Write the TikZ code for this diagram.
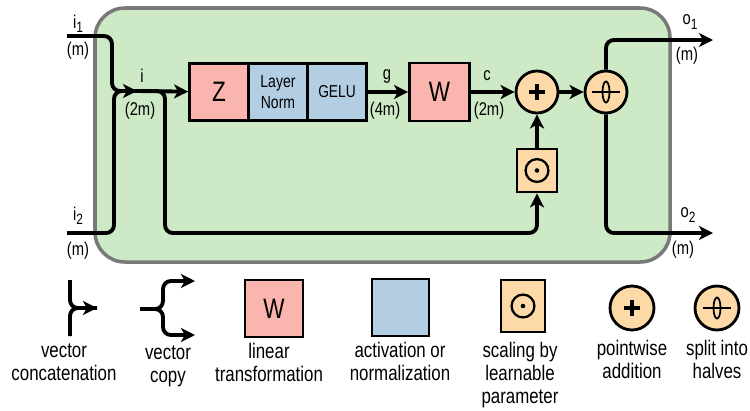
\documentclass[tikz,border=0pt]{standalone}
\usepackage{fontspec}
\setmainfont{Liberation Sans}[FakeStretch=0.8]
\usetikzlibrary{arrows.meta}
\usetikzlibrary{positioning}
\usetikzlibrary{calc}

\definecolor{bggreen}{HTML}{CDE9C6}
\definecolor{linfill}{HTML}{F9B5AE}
\definecolor{actfill}{HTML}{B3CDE3}
\definecolor{opfill}{HTML}{FDD9A8}

\newcommand{\idx}[1]{\raisebox{-0.45ex}{\fontsize{8.5}{9}\selectfont #1}}

\tikzset{
    wire/.style={line width=2.2pt, rounded corners=4.5pt},
    arr/.style={-{Stealth[length=8pt, width=8pt, inset=2.2pt]}},
    lab/.style={font=\fontsize{10.5}{11}\selectfont, inner sep=0pt},
    legtext/.style={font=\fontsize{12}{13}\selectfont, align=center, anchor=north, inner sep=0pt},
    blk/.style={draw, line width=1.6pt, inner sep=0pt, minimum width=1.18cm, minimum height=1.14cm},
    linbox/.style={blk, fill=linfill, font=\fontsize{16}{16}\selectfont},
    actbox/.style={blk, fill=actfill, align=center},
    addsym/.style={circle, draw, line width=1.6pt, fill=opfill, minimum size=0.84cm, inner sep=0pt,
        path picture={
            \draw[line width=2pt] ([xshift=-4.3pt]path picture bounding box.center) -- ([xshift=4.3pt]path picture bounding box.center);
            \draw[line width=2pt] ([yshift=-4.3pt]path picture bounding box.center) -- ([yshift=4.3pt]path picture bounding box.center);
        }},
    splitsym/.style={circle, draw, line width=1.6pt, fill=opfill, minimum size=0.84cm, inner sep=0pt,
        path picture={
            \draw[line width=1pt] ([xshift=-8pt]path picture bounding box.center) -- ([xshift=8pt]path picture bounding box.center);
            \draw[line width=1pt] (path picture bounding box.center) ellipse [x radius=2pt, y radius=6pt];
        }},
    scalesym/.style={draw, line width=1.6pt, fill=opfill, inner sep=0pt,
        path picture={
            \draw[line width=1.3pt] (path picture bounding box.center) circle [radius=6.5pt];
            \fill[black] (path picture bounding box.center) circle [radius=1.3pt];
        }},
}

\begin{document}
\begin{tikzpicture}[x=0.02cm, y=-0.02cm]
    \useasboundingbox (0,0) rectangle (750,410);

    % Block background
    \draw[line width=2pt, draw=gray!95!black, fill=bggreen, rounded corners=17pt] (95,8) rectangle (670,262);

    % Inputs and outputs
    \coordinate (i1) at (67,36);
    \coordinate (i2) at (67,233);
    \coordinate (cat) at (137,91);
    \coordinate (o1) at (713,40);
    \coordinate (o2) at (713,233);

    % Blocks
    \node[linbox] (z) at (219,92) {Z};
    \node[actbox, font=\fontsize{10}{11.5}\selectfont] (norm) at (278,92) {Layer\\Norm};
    \node[actbox, font=\fontsize{9.8}{11}\selectfont] (gelu) at (337,92) {GELU};
    \node[linbox, minimum width=1.2cm, minimum height=1.16cm] (w) at (439.5,92) {W};
    \node[addsym] (add) at (537,92) {};
    \node[splitsym] (split) at (606,92) {};
    \node[scalesym, minimum width=0.8cm, minimum height=0.86cm] (scale) at (537,170.5) {};

    % Connections
    \draw[wire] (i1) -- ++(45,0) |- (cat);
    \draw[wire, arr] (i2) -- ++(47,0) |- (cat);
    \draw[wire, arr] (cat) -- (z);
    \draw[wire, arr] (cat) -| ($(cat)+(28,142)$) -| (scale.south);
    \draw[wire, arr] (gelu) -- (w);
    \draw[wire, arr] (w) -- (add);
    \draw[wire, arr] (scale) -- (add);
    \draw[wire, arr] (add) -- (split);
    \draw[wire, arr] (split.north) |- (o1);
    \draw[wire, arr] (split.south) |- (o2);

    % Labels
    \node[lab] (li1) at (78,24) {i\idx{1}};
    \node[lab] (lm1) at (78,51) {(m)};
    \node[lab] (li2) at (78,216) {i\idx{2}};
    \node[lab] (lm2) at (78,251) {(m)};
    \node[lab] (li) at (142,76) {i};
    \node[lab] (lim) at (140,111) {(2m)};
    \node[lab] (lg) at (387,76) {g};
    \node[lab] (lgm) at (385,111) {(4m)};
    \node[lab] (lc) at (487,76) {c};
    \node[lab] (lcm) at (489,111) {(2m)};
    \node[lab] (lo1) at (690,22) {o\idx{1}};
    \node[lab] (lom1) at (687,56) {(m)};
    \node[lab] (lo2) at (688,215) {o\idx{2}};
    \node[lab] (lom2) at (683,250) {(m)};

    % Legend
    \coordinate (ctop) at (70,280);
    \coordinate (cbot) at (70,336);
    \coordinate (cout) at (97,308);
    \draw[wire] (ctop) |- (cout);
    \draw[wire, arr] (cbot) |- (cout);
    \node[legtext] (tcat) at (64,341) {\strut vector\\concatenation};

    \coordinate (cin) at (140,309);
    \coordinate (cup) at (195,281);
    \coordinate (cdn) at (195,335);
    \draw[wire, arr] (cin) -- ++(23,0) |- (cup);
    \draw[wire, arr] (cin) -- ++(23,0) |- (cdn);
    \node[legtext] (tcopy) at (168,343) {\strut vector\\copy};

    \node[linbox, minimum width=1.16cm] (lw) at (274,308.5) {W};
    \node[legtext] (tlin) at (269,342) {\strut linear\\transformation};

    \node[blk, fill=actfill, minimum width=1.14cm] (lact) at (400.5,307.5) {};
    \node[legtext] (tact) at (400,341) {\strut activation or\\normalization};

    \node[scalesym, minimum width=0.88cm, minimum height=1.04cm] (lscale) at (523,306) {};
    \node[legtext] (tscale) at (520,341) {\strut scaling by\\learnable\\parameter};

    \node[addsym, minimum size=0.88cm] (ladd) at (632,308) {};
    \node[legtext] (tadd) at (632,339) {\strut pointwise\\addition};

    \node[splitsym, minimum size=0.88cm] (lsplit) at (717,308) {};
    \node[legtext] (tsplit) at (717,339) {\strut split into\\halves};
\end{tikzpicture}
\end{document}
